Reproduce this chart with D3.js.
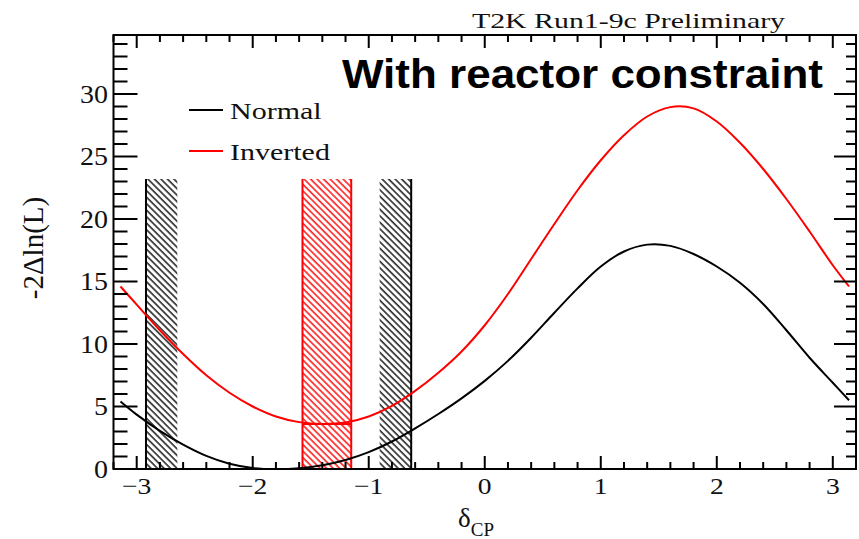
<!DOCTYPE html>
<html>
<head>
<meta charset="utf-8">
<script src="https://cdn.jsdelivr.net/npm/d3@7"></script>
<style>
  html, body { margin: 0; padding: 0; background: #fff; }
  svg { display: block; }
</style>
</head>
<body>
<script>
// delta_CP scan points and -2 Delta ln(L) for each mass ordering
const deltaCP = [-3.14, -3.0, -2.8, -2.6, -2.4, -2.2, -2.0, -1.8, -1.6, -1.4, -1.2, -1.0,
                 -0.8, -0.6, -0.4, -0.2, 0.0, 0.2, 0.4, 0.6, 0.8, 1.0, 1.2, 1.4, 1.6,
                 1.8, 2.0, 2.2, 2.4, 2.6, 2.8, 3.0, 3.14];
const normalChi2 = [5.4, 4.35, 3.05, 1.95, 1.05, 0.42, 0.08, 0.0, 0.07, 0.3, 0.72, 1.35,
                    2.2, 3.25, 4.4, 5.65, 7.05, 8.65, 10.5, 12.5, 14.45, 16.2, 17.4, 17.95, 17.85,
                    17.2, 16.2, 14.9, 13.2, 11.1, 8.9, 6.9, 5.5];
const invertedChi2 = [14.6, 13.15, 11.1, 9.2, 7.5, 6.1, 5.0, 4.2, 3.75, 3.6, 3.72, 4.2,
                      5.05, 6.25, 7.7, 9.4, 11.5, 14.0, 16.8, 19.6, 22.3, 24.7, 26.7, 28.2, 28.95,
                      28.85, 27.8, 26.1, 24.0, 21.6, 19.0, 16.3, 14.6];

// allowed-region boundaries (hatched side drawn inside the interval)
const normalBands = [[-2.92, -2.65], [-0.906, -0.634]];
const normalEdges = [-2.92, -0.634];
const invertedBands = [[-1.571, -1.151]];
const invertedEdges = [-1.571, -1.151];
const bandTop = 23.2;

const seriesNames = ["Normal", "Inverted"];
const seriesColors = ["#000000", "#ff0000"];
const xTicks = [-3, -2, -1, 0, 1, 2, 3];
const yTicks = [0, 5, 10, 15, 20, 25, 30];
const xDomain = [-3.2, 3.2];
const yDomain = [0, 34.72];

const W = 859, H = 539;
const frame = { left: 113.5, right: 856, top: 35, bottom: 469 };

const svg = d3.select("body").append("svg").attr("width", W).attr("height", H);

const x = d3.scaleLinear().domain(xDomain).range([frame.left, frame.right]);
const y = d3.scaleLinear().domain(yDomain).range([frame.bottom, frame.top]);

const defs = svg.append("defs");
defs.append("clipPath").attr("id", "plotClip")
  .append("rect")
  .attr("x", frame.left).attr("y", frame.top)
  .attr("width", frame.right - frame.left).attr("height", frame.bottom - frame.top);

function hatch(id, color, width) {
  const p = defs.append("pattern").attr("id", id)
    .attr("patternUnits", "userSpaceOnUse")
    .attr("width", 4.6).attr("height", 4.6)
    .attr("patternTransform", "rotate(-45)");
  p.append("line").attr("x1", 1).attr("y1", 0).attr("x2", 1).attr("y2", 4.6)
    .attr("stroke", color).attr("stroke-width", width);
}
hatch("hatchBlack", "#1a1a1a", 1.5);
hatch("hatchRed", "#ff0000", 1.4);

const plot = svg.append("g").attr("clip-path", "url(#plotClip)");

// hatched intervals
function drawBands(bands, edges, fillId, color) {
  plot.selectAll(null).data(bands).join("rect")
    .attr("x", d => x(d[0])).attr("width", d => x(d[1]) - x(d[0]))
    .attr("y", y(bandTop)).attr("height", y(0) - y(bandTop))
    .attr("fill", `url(#${fillId})`);
  plot.selectAll(null).data(edges).join("line")
    .attr("x1", d => x(d)).attr("x2", d => x(d))
    .attr("y1", y(bandTop)).attr("y2", y(0))
    .attr("stroke", color).attr("stroke-width", 2);
}
drawBands(normalBands, normalEdges, "hatchBlack", "#000");
drawBands(invertedBands, invertedEdges, "hatchRed", "#ff0000");

// minimum level across the inverted interval
const invMin = d3.min(invertedChi2);
plot.append("line")
  .attr("x1", x(invertedEdges[0])).attr("x2", x(invertedEdges[1]))
  .attr("y1", y(invMin)).attr("y2", y(invMin))
  .attr("stroke", "#ff0000").attr("stroke-width", 2);

// likelihood curves
const line = d3.line().curve(d3.curveCatmullRom.alpha(0.5))
  .x(d => x(d[0])).y(d => y(d[1]));
[normalChi2, invertedChi2].forEach((vals, i) => {
  plot.append("path")
    .datum(deltaCP.map((d, j) => [d, vals[j]]))
    .attr("fill", "none")
    .attr("stroke", seriesColors[i])
    .attr("stroke-width", 2)
    .attr("d", line);
});

// frame and ticks
const axes = svg.append("g").attr("stroke", "#000").attr("stroke-width", 2).attr("fill", "none");
axes.append("rect")
  .attr("x", frame.left).attr("y", frame.top)
  .attr("width", frame.right - frame.left).attr("height", frame.bottom - frame.top);

const xMinor = d3.range(-16, 17).map(k => k * 0.2).filter(v => Math.abs(v - Math.round(v)) > 1e-6);
const yMinor = d3.range(0, 35).filter(v => v % 5 !== 0);

function ticks(vals, scale, len, orient) {
  axes.selectAll(null).data(vals).join("line")
    .each(function (v) {
      const s = d3.select(this);
      const p = scale(v);
      if (orient === "bottom") s.attr("x1", p).attr("x2", p).attr("y1", frame.bottom).attr("y2", frame.bottom - len);
      if (orient === "top") s.attr("x1", p).attr("x2", p).attr("y1", frame.top).attr("y2", frame.top + len);
      if (orient === "left") s.attr("y1", p).attr("y2", p).attr("x1", frame.left).attr("x2", frame.left + len);
      if (orient === "right") s.attr("y1", p).attr("y2", p).attr("x1", frame.right).attr("x2", frame.right - len);
    });
}
ticks(xTicks, x, 13, "bottom");
ticks(xMinor, x, 7, "bottom");
ticks(xTicks, x, 13, "top");
ticks(xMinor, x, 7, "top");
ticks(yTicks, y, 24, "left");
ticks(yMinor, y, 14, "left");
ticks(yTicks, y, 22, "right");
ticks(yMinor, y, 10, "right");

// stretched serif text helper
const serif = "'Liberation Serif', 'Times New Roman', serif";
function label(tx, ty, text, opts = {}) {
  const g = svg.append("g")
    .attr("transform", `translate(${tx},${ty}) scale(${opts.sx || 1},1)`);
  const t = g.append("text")
    .attr("x", 0).attr("y", 0)
    .attr("font-family", opts.family || serif)
    .attr("font-size", opts.size || 24)
    .attr("font-weight", opts.weight || "normal")
    .attr("text-anchor", opts.anchor || "start")
    .attr("fill", opts.fill || "#111")
    .text(text);
  if (opts.length) t.attr("textLength", opts.length).attr("lengthAdjust", "spacingAndGlyphs");
  return t;
}

const fmt = v => (v < 0 ? "\u2212" + Math.abs(v) : String(v));
xTicks.forEach(v => label(x(v), 494, fmt(v), { anchor: "middle", size: 24, sx: 1.15 }));
yTicks.forEach(v => label(108, y(v) + 8.5, fmt(v), { anchor: "end", size: 25, sx: 1.12 }));

// axis titles
svg.append("text")
  .attr("transform", `translate(43,248) rotate(-90)`)
  .attr("text-anchor", "middle")
  .attr("font-family", serif).attr("font-size", 29).attr("fill", "#111")
  .text("-2\u0394ln(L)");

const xt = svg.append("text")
  .attr("x", 458).attr("y", 527)
  .attr("font-family", serif).attr("fill", "#111");
xt.append("tspan").attr("font-size", 27).text("\u03b4");
xt.append("tspan").attr("font-size", 19).attr("dy", 9).text("CP");

// headers
label(472, 28, "T2K Run1-9c Preliminary", { size: 22, length: 313 });
label(342, 88, "With reactor constraint", {
  family: "'Liberation Sans', Arial, sans-serif", weight: "bold", size: 40, length: 481, fill: "#000"
});

// legend
const legendY = [110, 151];
seriesNames.forEach((name, i) => {
  svg.append("line")
    .attr("x1", 189).attr("x2", 223)
    .attr("y1", legendY[i]).attr("y2", legendY[i])
    .attr("stroke", seriesColors[i]).attr("stroke-width", 2);
  label(230, legendY[i] + 9, name, { size: 24, sx: 1.25 });
});
</script>
</body>
</html>
